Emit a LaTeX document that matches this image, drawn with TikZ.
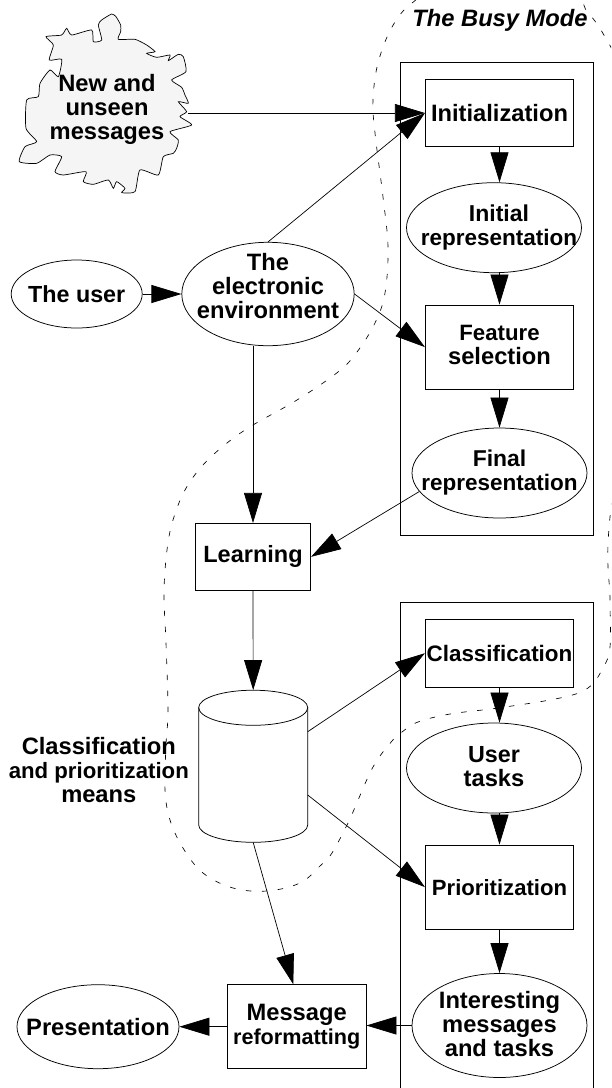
\documentclass[tikz,border=0pt]{standalone}
\usepackage{fontspec}
\setmainfont{Liberation Sans}
\usetikzlibrary{arrows.meta,shapes.geometric}
\newcommand{\fz}[1]{\fontsize{#1}{24}\selectfont}
\newcommand{\padline}[1]{\\[\dimexpr#1pt-24pt\relax]\mbox{}}
\tikzset{
  txt/.style={font=\fontsize{23.7}{24}\selectfont\bfseries,align=center},
  boxn/.style={draw=black,line width=0.75pt,fill=white,rectangle,inner sep=-60pt,txt},
  oval/.style={draw=black,line width=0.75pt,fill=white,ellipse,inner sep=-60pt,txt},
  frame/.style={draw=black,line width=0.75pt},
  conn/.style={draw=black,line width=0.7pt,-{Triangle[length=30pt,width=18pt]}},
  region/.style={draw=black,line width=0.65pt,dash pattern=on 5.5pt off 10.5pt},
  cloudshape/.style={draw=black,line width=0.7pt,fill=black!4},
}
\begin{document}
\begin{tikzpicture}[x=1pt,y=-1pt]
\clip (0,0) rectangle (611,1088);
\fill[white] (0,0) rectangle (611,1088);
% frames
\draw[frame] (400.7,62) rectangle (593,535.7);
\draw[frame] (400.7,1100) -- (400.7,602.3) -- (593,602.3) -- (593,1100);
% busy mode region
\draw[region] plot[smooth,tension=0.6] coordinates {
 (650,120) (608,42) (588,13) (565,-3) (438,-4) (412,3) (392,27) (378,63) (373,100) (375,133) (383,197) (388,247) (385,293) (375,323) (357,352) (338,372) (297,400) (253,425) (227,443) (203,465) (185,490) (173,520) (167,550) (164,593) (166,643) (168,710) (166,745) (165,790) (170,820) (183,848) (203,873) (233,888) (267,891) (300,883) (320,866) (332,853) (347,825) (353,812) (373,767) (392,741) (402,732) (418,722) (450,714) (498,708) (560,698) (588,688) (603,668) (610,647) (610,600) (610,517) (640,300)};
% cloud
\begin{scope}[x=0.3333pt,y=-0.3333pt]
\draw[cloudshape] plot[smooth cycle,tension=0.35] coordinates {
(335,42)(348,50)(362,75)(362,95)(355,118)(405,118)(440,135)(465,155)(440,160)(470,172)(510,165)(505,182)(535,163)(550,170)(558,215)(515,240)(545,262)(555,285)(565,310)(535,305)(560,335)(540,350)(575,375)(510,395)(535,420)(530,445)(520,460)(490,470)(475,525)(420,510)(405,575)(365,578)(375,565)(350,545)(340,565)(325,540)(280,553)(250,545)(258,515)(190,525)(165,515)(185,470)(150,465)(110,490)(58,485)(75,440)(110,425)(78,385)(80,300)(115,290)(120,250)(150,210)(175,230)(185,178)(148,180)(160,135)(138,110)(185,105)(200,85)(215,105)(275,90)(280,125)(305,120)(295,75)(305,60)};
\end{scope}
\node[txt] (cloudtext) at (107,109) {New and\\unseen\\messages};
\coordinate (cloudout) at (188,113);
% nodes
\node[boxn,minimum width=148.4pt,minimum height=67pt] (init) at (499.5,113) {Initialization};
\node[oval,minimum width=175pt,minimum height=90pt] (irep) at (494,227.7) {\hspace*{10pt}\fz{23}Initial\\\hspace*{10pt}\fz{22.5}representation};
\node[boxn,minimum width=148.4pt,minimum height=84.3pt] (feat) at (499.5,347.1) {\fz{22.2}Feature\\selection\padline{4}};
\node[oval,minimum width=175pt,minimum height=90pt] (frep) at (499.5,473) {\fz{22.9}Final\\\fz{22.5}representation};
\node[oval,minimum width=131pt,minimum height=68pt] (user) at (76.7,294) {\fz{23.3}The user};
\node[oval,minimum width=172.4pt,minimum height=103.4pt] (elec) at (268,294) {The\\electronic\\environment\padline{16}};
\node[boxn,minimum width=115.4pt,minimum height=67pt] (learn) at (253,556.8) {\fz{23.5}Learning};
\node[boxn,minimum width=148.4pt,minimum height=67.7pt] (class) at (499.5,653.2) {\fz{22.4}Classification};
\node[oval,minimum width=175pt,minimum height=90pt] (tasks) at (494,768) {\fz{23.3}User\\tasks\padline{4}};
\node[boxn,minimum width=148.4pt,minimum height=84.3pt] (prior) at (499.5,887.1) {\fz{22.1}Prioritization};
\node[oval,minimum width=175pt,minimum height=104pt] (inter) at (499.5,1025.5) {Interesting\\messages\\and tasks\padline{3}};
\node[boxn,minimum width=138.7pt,minimum height=84pt] (msg) at (296.7,1026.7) {Message\\\fz{21.6}reformatting};
\node[oval,minimum width=162pt,minimum height=84pt] (pres) at (98,1026.7) {Presentation};
% cylinder
\node[minimum width=109pt,minimum height=152pt,inner sep=0pt] (cyl) at (253.2,766.3) {};
\draw[line width=0.75pt,fill=white] (198.7,707.5) arc[start angle=180,end angle=0,x radius=54.5pt,y radius=17.3pt]
  -- (307.7,825) arc[start angle=0,end angle=-180,x radius=54.5pt,y radius=17.3pt] -- cycle;
\draw[line width=0.75pt] (198.7,707.5) arc[start angle=180,end angle=360,x radius=54.5pt,y radius=17.8pt];
\node[txt] (cyltext) at (98.8,770) {Classification\\\fz{22.2}and prioritization\\\fz{23.7}means};
\coordinate (cylA) at (307.7,731.7);
\coordinate (cylB) at (307.7,795);
\node[txt,font=\fontsize{23.7}{24}\selectfont\bfseries\itshape] (busy) at (500,20.5) {The Busy Mode};
% connectors
\draw[conn] (cloudout) -- (init.west);
\draw[conn] (elec.north) -- (init.west);
\draw[conn] (user.east) -- (elec.west);
\draw[conn] (elec.east) -- (feat.west);
\draw[conn] (learn.north |- elec.south) -- (learn.north);
\draw[conn] (frep.193) -- (learn.east);
\draw[conn] (learn.south) -- (cyl.north);
\draw[conn] (cylA) -- (class.west);
\draw[conn] (cylB) -- (prior.west);
\draw[conn] (cyl.south) -- ([xshift=-3.4pt]msg.north);
\draw[conn] (init.south) -- (init.south |- irep.north);
\draw[conn] (init.south |- irep.south) -- (feat.north);
\draw[conn] (feat.south) -- (frep.north);
\draw[conn] (class.south) -- (class.south |- tasks.north);
\draw[conn] (class.south |- tasks.south) -- (prior.north);
\draw[conn] (prior.south) -- (inter.north);
\draw[conn] (inter.west) -- (msg.east |- inter.west);
\draw[conn] (msg.west) -- (pres.east);
\end{tikzpicture}
\end{document}
